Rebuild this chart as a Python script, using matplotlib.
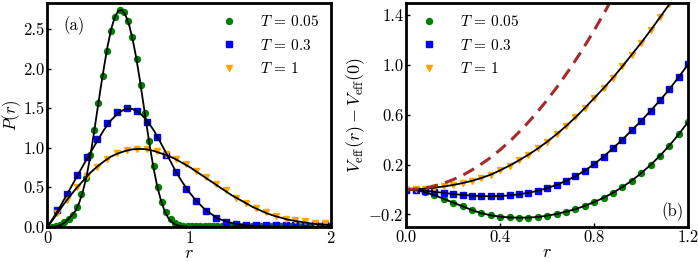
import matplotlib
matplotlib.use("Agg")
import matplotlib.pyplot as plt
import numpy as np

plt.rcParams['font.family'] = 'serif'
plt.rcParams['font.serif'] = ['cmr10']
plt.rcParams['mathtext.fontset'] = 'cm'
plt.rcParams['axes.formatter.use_mathtext'] = True

labels = [r'$T\,=\,0.05$', r'$T\,=\,0.3$', r'$T\,=\,1$']

# ---- panel (a): P(r) ----
# simulation points
r_a_low = [0.03, 0.06, 0.09, 0.12, 0.15, 0.18, 0.21, 0.24, 0.27, 0.30, 0.33, 0.36,
           0.39, 0.42, 0.45, 0.48, 0.51, 0.54, 0.57, 0.60, 0.63, 0.66, 0.69, 0.72,
           0.75, 0.78, 0.81, 0.84, 0.87, 0.90, 0.93, 0.96, 0.99, 1.02, 1.05, 1.08,
           1.11, 1.14, 1.17, 1.20, 1.23, 1.26, 1.29, 1.32, 1.35, 1.38, 1.41, 1.44,
           1.47, 1.50, 1.53, 1.56, 1.59, 1.62, 1.65, 1.68, 1.71, 1.74, 1.77, 1.80,
           1.83, 1.86, 1.89, 1.92, 1.95, 1.98]
p_a_low = [0.0, 0.005, 0.02, 0.06, 0.10, 0.15, 0.25, 0.41, 0.62, 0.91, 1.22, 1.57,
           1.91, 2.22, 2.47, 2.65, 2.74, 2.72, 2.60, 2.40, 2.12, 1.79, 1.44, 1.09,
           0.77, 0.51, 0.32, 0.19, 0.10, 0.05, 0.03, 0.015, 0.015, 0.015, 0.015, 0.015,
           0.015, 0.015, 0.015, 0.015, 0.015, 0.015, 0.015, 0.015, 0.015, 0.015, 0.015, 0.015,
           0.015, 0.015, 0.015, 0.015, 0.015, 0.015, 0.015, 0.015, 0.015, 0.015, 0.015, 0.015,
           0.015, 0.015, 0.015, 0.015, 0.015, 0.015]
r_a = [0.07, 0.14, 0.21, 0.28, 0.35, 0.42, 0.49, 0.56, 0.63, 0.70, 0.77, 0.84, 0.91, 0.98,
       1.05, 1.12, 1.19, 1.26, 1.33, 1.40, 1.47, 1.54, 1.61, 1.68, 1.75, 1.82, 1.89, 1.96]
p_a_mid = [0.21, 0.42, 0.65, 0.88, 1.11, 1.31, 1.45, 1.50, 1.46, 1.33, 1.14, 0.91, 0.69, 0.48,
           0.33, 0.20, 0.11, 0.06, 0.04, 0.03, 0.025, 0.02, 0.02, 0.02, 0.02, 0.02, 0.02, 0.02]
p_a_high = [0.17, 0.34, 0.50, 0.64, 0.76, 0.86, 0.93, 0.97, 0.99, 0.99, 0.96, 0.92, 0.86, 0.79,
            0.71, 0.63, 0.54, 0.46, 0.37, 0.30, 0.24, 0.185, 0.14, 0.105, 0.085, 0.07, 0.055, 0.045]

# theory curves
r_fit_low = [0.0, 0.025, 0.05, 0.075, 0.1, 0.125, 0.15, 0.175, 0.2, 0.225, 0.25, 0.275,
             0.3, 0.325, 0.35, 0.375, 0.4, 0.425, 0.45, 0.475, 0.5, 0.525, 0.55, 0.575,
             0.6, 0.625, 0.65, 0.675, 0.7, 0.725, 0.75, 0.775, 0.8, 0.825, 0.85, 0.875,
             0.9, 0.925, 0.95, 0.975, 1.0, 2.0]
p_fit_low = [0.0, 0.0, 0.003, 0.01, 0.03, 0.06, 0.10, 0.15, 0.21, 0.31, 0.45, 0.63,
             0.87, 1.15, 1.45, 1.75, 2.03, 2.29, 2.50, 2.65, 2.73, 2.74, 2.68, 2.56,
             2.38, 2.15, 1.88, 1.58, 1.28, 0.99, 0.73, 0.51, 0.34, 0.21, 0.12, 0.065,
             0.032, 0.015, 0.007, 0.003, 0.001, 0.0]
r_fit = [0.0, 0.05, 0.1, 0.15, 0.2, 0.25, 0.3, 0.35, 0.4, 0.45, 0.5, 0.55, 0.6, 0.65,
         0.7, 0.75, 0.8, 0.85, 0.9, 0.95, 1.0, 1.05, 1.1, 1.15, 1.2, 1.25, 1.3, 1.35,
         1.4, 1.45, 1.5, 1.55, 1.6, 1.65, 1.7, 1.75, 1.8, 1.85, 1.9, 1.95, 2.0]
p_fit_mid = [0.0, 0.14, 0.29, 0.45, 0.61, 0.77, 0.93, 1.08, 1.23, 1.35, 1.44, 1.49, 1.49, 1.44,
             1.35, 1.22, 1.06, 0.89, 0.72, 0.57, 0.44, 0.33, 0.24, 0.17, 0.11, 0.075, 0.05, 0.03,
             0.02, 0.013, 0.008, 0.005, 0.003, 0.002, 0.001, 0.001, 0.0, 0.0, 0.0, 0.0, 0.0]
p_fit_high = [0.0, 0.12, 0.25, 0.37, 0.48, 0.58, 0.68, 0.76, 0.83, 0.89, 0.93, 0.96, 0.98, 0.985,
              0.98, 0.96, 0.93, 0.90, 0.86, 0.81, 0.76, 0.70, 0.64, 0.58, 0.52, 0.46, 0.40, 0.35,
              0.30, 0.25, 0.21, 0.17, 0.14, 0.115, 0.09, 0.075, 0.06, 0.045, 0.035, 0.028, 0.022]

# ---- panel (b): Veff(r) - Veff(0) ----
r_b = [0.0, 0.04, 0.08, 0.12, 0.16, 0.20, 0.24, 0.28, 0.32, 0.36, 0.40, 0.44, 0.48, 0.52,
       0.56, 0.60, 0.64, 0.68, 0.72, 0.76, 0.80, 0.84, 0.88, 0.92, 0.96, 1.00, 1.04, 1.08,
       1.12, 1.16, 1.20]
v_low = [0.0, -0.005, -0.02, -0.045, -0.075, -0.105, -0.135, -0.165, -0.19, -0.207, -0.218,
         -0.224, -0.226, -0.225, -0.22, -0.21, -0.196, -0.178, -0.157, -0.131, -0.10, -0.066,
         -0.026, 0.02, 0.072, 0.132, 0.198, 0.272, 0.354, 0.445, 0.545]
v_mid = [0.0, -0.003, -0.009, -0.018, -0.027, -0.036, -0.043, -0.049, -0.053, -0.054, -0.052,
         -0.047, -0.038, -0.026, -0.01, 0.012, 0.038, 0.07, 0.107, 0.152, 0.205, 0.265,
         0.332, 0.402, 0.476, 0.553, 0.633, 0.717, 0.807, 0.905, 1.008]
v_high = [0.0, 0.002, 0.007, 0.015, 0.025, 0.037, 0.052, 0.07, 0.093, 0.12, 0.155, 0.193,
          0.235, 0.28, 0.33, 0.385, 0.445, 0.51, 0.58, 0.655, 0.735, 0.815, 0.90, 0.99,
          1.085, 1.18, 1.28, 1.385, 1.49, 1.60, 1.72]
r_dash = [0.0, 0.05, 0.1, 0.15, 0.2, 0.25, 0.3, 0.35, 0.4, 0.45, 0.5, 0.55, 0.6, 0.65,
          0.7, 0.75, 0.8, 0.85, 0.9]
v_dash = [0.0, 0.005, 0.02, 0.045, 0.08, 0.125, 0.18, 0.245, 0.32, 0.405, 0.5, 0.605,
          0.72, 0.845, 0.98, 1.125, 1.28, 1.445, 1.62]


def style_axes(ax):
    for sp in ax.spines.values():
        sp.set_linewidth(2)
    ax.tick_params(direction='in', length=3, width=1, labelsize=12, pad=2)


def add_legend(ax, loc):
    ax.legend(loc=loc, frameon=False, fontsize=11, handlelength=1.5,
              handletextpad=1.3, labelspacing=0.55, borderaxespad=0.35)


def main():
    fig = plt.figure(figsize=(6.98, 2.62), dpi=100)
    ax1 = fig.add_axes([0.068, 0.134, 0.406, 0.855])
    ax2 = fig.add_axes([0.582, 0.134, 0.404, 0.855])

    # (a)
    ax1.plot(r_a_low, p_a_low, 'o', color='green', ms=4.3, label=labels[0])
    ax1.plot(r_a, p_a_mid, 's', color='blue', ms=5, label=labels[1])
    ax1.plot(r_a, p_a_high, 'v', color='orange', ms=5, label=labels[2])
    ax1.plot(r_fit_low, p_fit_low, 'k-', lw=1.3)
    ax1.plot(r_fit, p_fit_mid, 'k-', lw=1.3)
    ax1.plot(r_fit, p_fit_high, 'k-', lw=1.3)
    ax1.set_xlim(0, 2)
    ax1.set_ylim(0, 2.83)
    ax1.set_xticks([0, 1, 2])
    ax1.set_yticks([0.0, 0.5, 1.0, 1.5, 2.0, 2.5])
    ax1.set_yticklabels(['0.0', '0.5', '1.0', '1.5', '2.0', '2.5'])
    ax1.set_xlabel(r'$r$', fontsize=13, labelpad=0)
    ax1.set_ylabel(r'$P(r)$', fontsize=12, labelpad=0)
    ax1.text(0.055, 0.9, '(a)', transform=ax1.transAxes, fontsize=12, va='center')
    add_legend(ax1, 'upper right')
    style_axes(ax1)

    # (b)
    ax2.plot(r_b, v_low, 'o', color='green', ms=4.3, label=labels[0])
    ax2.plot(r_b, v_mid, 's', color='blue', ms=5, label=labels[1])
    ax2.plot(r_b, v_high, 'v', color='orange', ms=5, label=labels[2])
    ax2.plot(r_b, v_low, 'k-', lw=1.3)
    ax2.plot(r_b, v_mid, 'k-', lw=1.3)
    ax2.plot(r_b, v_high, 'k-', lw=1.3)
    ax2.plot(r_dash, v_dash, '--', color='brown', lw=2.2, dashes=(4, 2.5))
    ax2.set_xlim(0, 1.2)
    ax2.set_ylim(-0.3, 1.5)
    ax2.set_xticks([0.0, 0.4, 0.8, 1.2])
    ax2.set_xticklabels(['0.0', '0.4', '0.8', '1.2'])
    ax2.set_yticks([-0.2, 0.2, 0.6, 1.0, 1.4])
    ax2.set_yticklabels([r'$-0.2$', '0.2', '0.6', '1.0', '1.4'])
    ax2.set_xlabel(r'$r$', fontsize=13, labelpad=0)
    ax2.set_ylabel(r'$V_{\rm eff}(r)-V_{\rm eff}(0)$', fontsize=13, labelpad=1)
    ax2.text(0.985, 0.067, '(b)', transform=ax2.transAxes, fontsize=12,
             ha='right', va='center')
    add_legend(ax2, 'upper left')
    style_axes(ax2)

    fig.savefig('out.png', dpi=100)


if __name__ == "__main__":
    main()
